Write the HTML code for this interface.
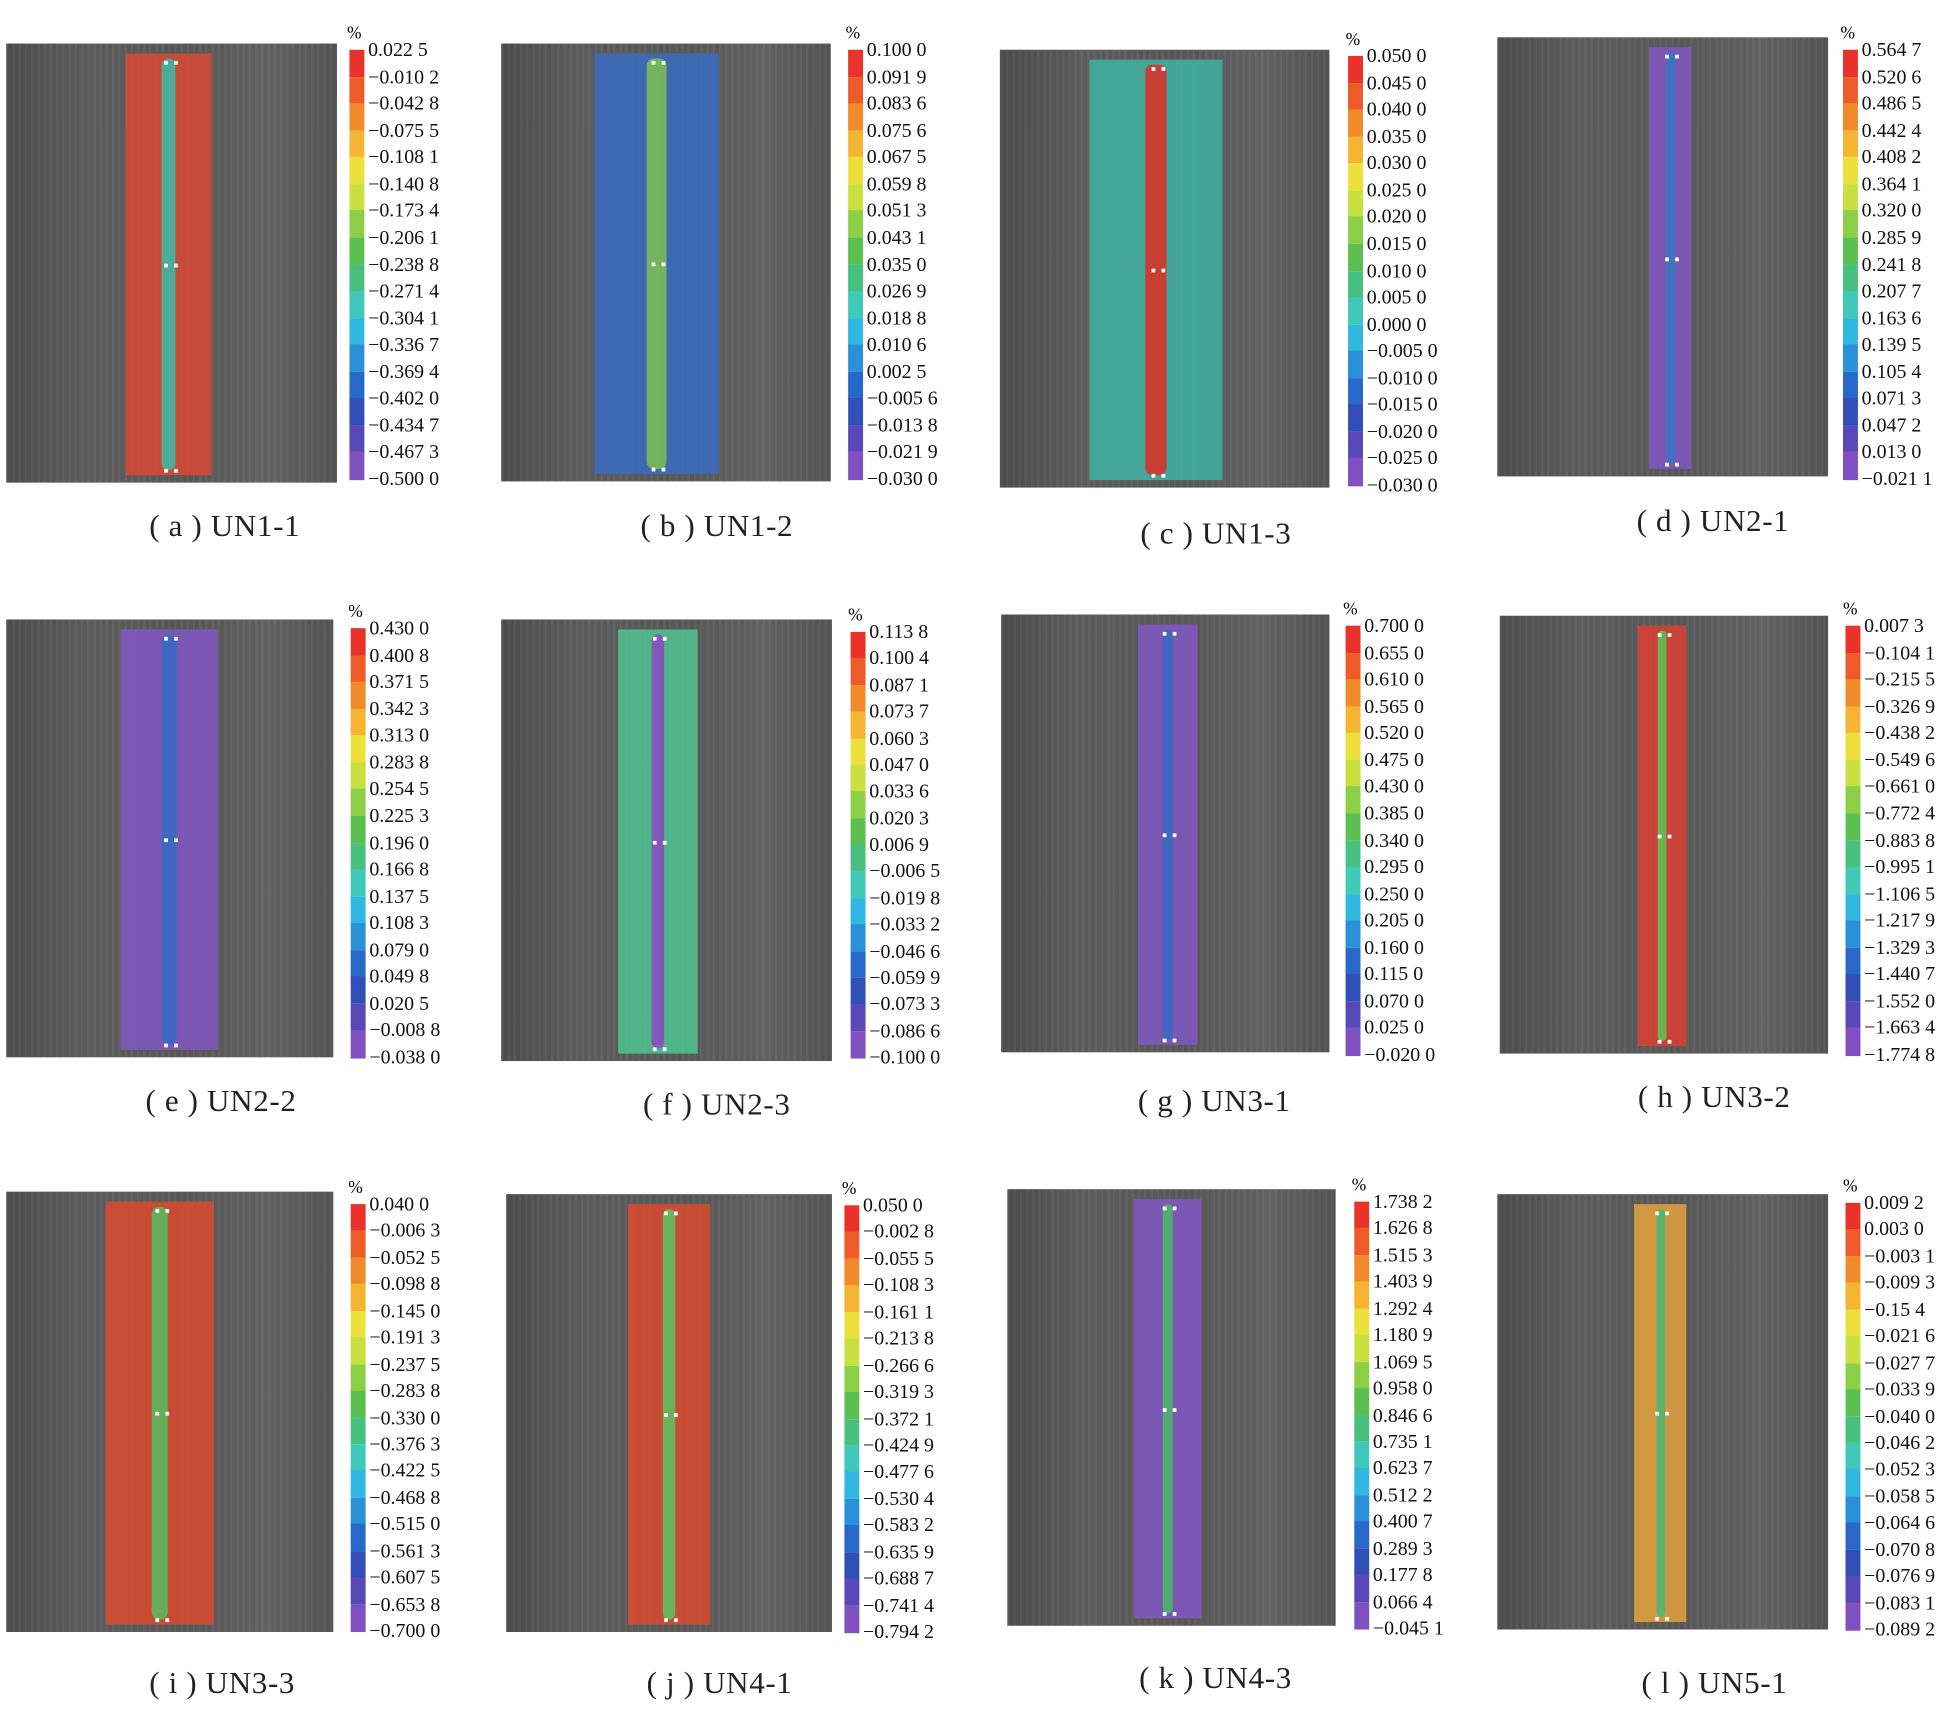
<!DOCTYPE html>
<html><head><meta charset="utf-8">
<style>
html,body{margin:0;padding:0;background:#fff;}
#root{position:absolute;left:0;top:0;width:1568px;height:1386px;transform-origin:0 0;transform:scale(1.2436,1.2439);font-family:"Liberation Serif","Noto Serif CJK SC",serif;}
.img{position:absolute;background:linear-gradient(90deg,#4e4e4e,#5e5e5e 25%,#595959 55%,#636363 80%,#555);}
.img::before{content:"";position:absolute;inset:0;background:repeating-linear-gradient(90deg,rgba(255,255,255,0.03) 0 2px,rgba(0,0,0,0.03) 2px 5px);}
.strip{position:absolute;top:8px;bottom:6px;opacity:0.88;}
.band{position:absolute;top:4px;bottom:4px;border-radius:6px;}
.dot{position:absolute;width:3px;height:3px;background:#fff;}
.cbar{position:absolute;width:12px;}
.cell{position:absolute;left:0;width:12px;}
.lbl{position:absolute;font-size:16px;color:#111;white-space:nowrap;line-height:16px;}
.pct{position:absolute;font-size:14px;}
.cap{position:absolute;font-size:25px;color:#222;letter-spacing:0.5px;white-space:nowrap;}
</style></head><body>
<div id="root"></div>
<script>
const captions=["(a) UN1-1","(b) UN1-2","(c) UN1-3","(d) UN2-1","(e) UN2-2","(f) UN2-3","(g) UN3-1","(h) UN3-2","(i) UN3-3","(j) UN4-1","(k) UN4-3","(l) UN5-1"];
const ticksA=["0.022 5","−0.010 2","−0.042 8","−0.075 5","−0.108 1","−0.140 8","−0.173 4","−0.206 1","−0.238 8","−0.271 4","−0.304 1","−0.336 7","−0.369 4","−0.402 0","−0.434 7","−0.467 3","−0.500 0"];
const ticksB=["0.100 0","0.091 9","0.083 6","0.075 6","0.067 5","0.059 8","0.051 3","0.043 1","0.035 0","0.026 9","0.018 8","0.010 6","0.002 5","−0.005 6","−0.013 8","−0.021 9","−0.030 0"];
const ticksC=["0.050 0","0.045 0","0.040 0","0.035 0","0.030 0","0.025 0","0.020 0","0.015 0","0.010 0","0.005 0","0.000 0","−0.005 0","−0.010 0","−0.015 0","−0.020 0","−0.025 0","−0.030 0"];
const ticksD=["0.564 7","0.520 6","0.486 5","0.442 4","0.408 2","0.364 1","0.320 0","0.285 9","0.241 8","0.207 7","0.163 6","0.139 5","0.105 4","0.071 3","0.047 2","0.013 0","−0.021 1"];
const ticksE=["0.430 0","0.400 8","0.371 5","0.342 3","0.313 0","0.283 8","0.254 5","0.225 3","0.196 0","0.166 8","0.137 5","0.108 3","0.079 0","0.049 8","0.020 5","−0.008 8","−0.038 0"];
const ticksF=["0.113 8","0.100 4","0.087 1","0.073 7","0.060 3","0.047 0","0.033 6","0.020 3","0.006 9","−0.006 5","−0.019 8","−0.033 2","−0.046 6","−0.059 9","−0.073 3","−0.086 6","−0.100 0"];
const ticksG=["0.700 0","0.655 0","0.610 0","0.565 0","0.520 0","0.475 0","0.430 0","0.385 0","0.340 0","0.295 0","0.250 0","0.205 0","0.160 0","0.115 0","0.070 0","0.025 0","−0.020 0"];
const ticksH=["0.007 3","−0.104 1","−0.215 5","−0.326 9","−0.438 2","−0.549 6","−0.661 0","−0.772 4","−0.883 8","−0.995 1","−1.106 5","−1.217 9","−1.329 3","−1.440 7","−1.552 0","−1.663 4","−1.774 8"];
const ticksI=["0.040 0","−0.006 3","−0.052 5","−0.098 8","−0.145 0","−0.191 3","−0.237 5","−0.283 8","−0.330 0","−0.376 3","−0.422 5","−0.468 8","−0.515 0","−0.561 3","−0.607 5","−0.653 8","−0.700 0"];
const ticksJ=["0.050 0","−0.002 8","−0.055 5","−0.108 3","−0.161 1","−0.213 8","−0.266 6","−0.319 3","−0.372 1","−0.424 9","−0.477 6","−0.530 4","−0.583 2","−0.635 9","−0.688 7","−0.741 4","−0.794 2"];
const ticksK=["1.738 2","1.626 8","1.515 3","1.403 9","1.292 4","1.180 9","1.069 5","0.958 0","0.846 6","0.735 1","0.623 7","0.512 2","0.400 7","0.289 3","0.177 8","0.066 4","−0.045 1"];
const ticksL=["0.009 2","0.003 0","−0.003 1","−0.009 3","−0.15 4","−0.021 6","−0.027 7","−0.033 9","−0.040 0","−0.046 2","−0.052 3","−0.058 5","−0.064 6","−0.070 8","−0.076 9","−0.083 1","−0.089 2"];
const ticks=[ticksA,ticksB,ticksC,ticksD,ticksE,ticksF,ticksG,ticksH,ticksI,ticksJ,ticksK,ticksL];
const bandColors=["#e8322a","#ee5a28","#f08a2a","#f5b432","#eee03a","#c8e040","#8cd048","#5cc050","#48c080","#40c8b8","#30b8e0","#2a90d8","#2868c8","#3050b8","#5848b8","#8050c0"];
const L=[
[5,35,266,353,101,69,281,40,345,120,425,"#d84a36","#4ab8a0"],
[403,35,265,352,478,100,682,40,345,515,425,"#3a6cc0","#78c060"],
[804,40,265,352,876,107,1084,45,345,917,431,"#40b0a0","#d83a30"],
[1204,30,266,353,1326,34,1482,40,345,1316,421,"#8058c0","#3a78d0"],
[5,498,263,352,97,78,282,505,345,117,887,"#8058c0","#3a6ad0"],
[403,498,266,355,497,64,684,508,342,517,890,"#50c090","#8858c8"],
[805,494,264,352,915,48,1082,503,345,915,887,"#8058c0","#3a6ad0"],
[1206,495,264,352,1317,39,1484,503,345,1317,884,"#d84034","#70c050"],
[5,958,263,354,85,87,282,968,343,120,1355,"#d84a30","#6ab858"],
[407,960,262,352,505,66,679,969,343,520,1355,"#d84a30","#70c058"],
[810,956,264,351,912,54,1089,966,343,916,1351,"#8058c0","#50b870"],
[1204,960,266,350,1314,42,1484,967,343,1320,1355,"#e0a040","#60c070"]
];
const root=document.getElementById('root');
function mk(cls,parent){const d=document.createElement('div');d.className=cls;parent.appendChild(d);return d;}
L.forEach((p,i)=>{
 const [ix,iy,iw,ih,sx,sw,cx,cy,ch,capx,capy,sc,bc]=p;
 const img=mk('img',root);
 
 
 Object.assign(img.style,{left:ix+'px',top:iy+'px',width:iw+'px',height:ih+'px'});
 const st=mk('strip',img);
 
 
 Object.assign(st.style,{left:(sx-ix)+'px',width:sw+'px',background:sc});
 const bd=mk('band',st);
 
 
 const bw=Math.max(7,sw*0.16);
 Object.assign(bd.style,{left:(sw/2-bw/2)+'px',width:bw+'px',background:bc});
 [0.04,0.5,0.97].forEach(f=>{[-4,4].forEach(dx=>{const d=mk('dot',img);
  
  
  d.style.left=(sx-ix+sw/2+dx)+'px';d.style.top=(ih*f)+'px';});});
 const cb=mk('cbar',root);
 
 
 Object.assign(cb.style,{left:cx+'px',top:cy+'px',height:ch+'px'});
 const n=bandColors.length, h=ch/n;
 bandColors.forEach((c,k)=>{const e=mk('cell',cb);
  
  
  Object.assign(e.style,{top:(k*h)+'px',height:(h+0.5)+'px',background:c});});
 const pc=mk('pct',root);
 
 
 pc.textContent='%';pc.style.left=(cx-2)+'px';pc.style.top=(cy-20)+'px';
 ticks[i].forEach((t,k)=>{const lb=mk('lbl',root);
  
  
  lb.textContent=t;
  lb.style.left=(cx+15)+'px';lb.style.top=(cy+k*ch/(ticks[i].length-1)-7)+'px';});
 const cp=mk('cap',root);
 
 
 cp.textContent=captions[i].replace('(','( ').replace(')',' )');
 cp.style.left=capx+'px';cp.style.top=(capy-15)+'px';
});
</script>
</body></html>
